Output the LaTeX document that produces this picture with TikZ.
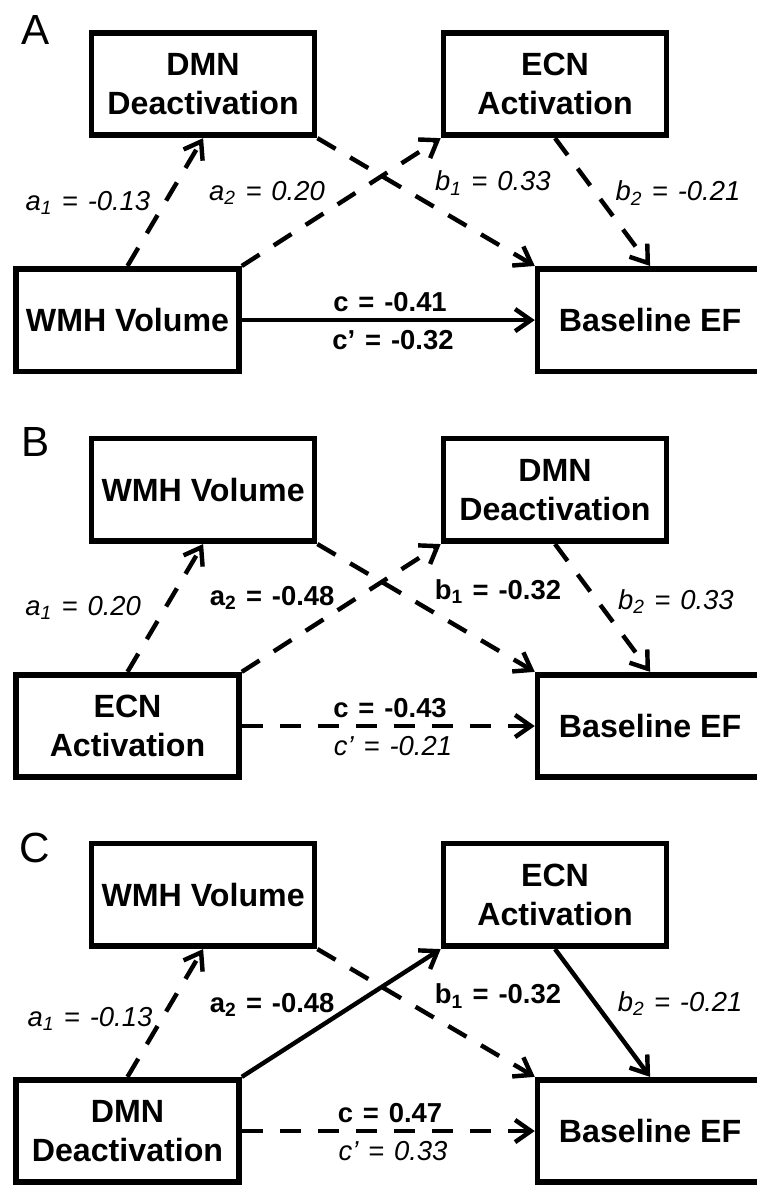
\documentclass[tikz,border=0pt]{standalone}
\usepackage{fontspec}
\setmainfont{Liberation Sans}
\usetikzlibrary{arrows.meta}
\newcommand{\est}[2]{#1\hspace{0.36em}=\hspace{0.36em}#2}

\begin{document}
\begin{tikzpicture}[
    box/.style={draw, line width=5.4pt, minimum width=7.43cm, minimum height=3.42cm,
      align=center, font=\fontsize{30.5}{37}\selectfont\bfseries},
    outbox/.style={box, minimum width=7.5cm},
    link/.style={line width=4.2pt, -{Straight Barb[length=15pt, width=21pt]}},
    dashlink/.style={link, dash pattern=on 20pt off 16pt},
    coef/.style={font=\fontsize{26}{30}\selectfont\itshape},
    coefb/.style={font=\fontsize{26}{30}\selectfont\bfseries},
    panel/.style={font=\fontsize{40}{44}\selectfont}]
  \useasboundingbox (0,0) rectangle (25.2,-39.533);

  % A: WMH volume as predictor
  \node[panel] (labA) at (1.17,-1.0) {A};
  \node[box] (dmnA) at (6.77,-2.8) {DMN\\Deactivation};
  \node[box] (ecnA) at (18.5,-2.8) {ECN\\Activation};
  \node[box] (wmhA) at (4.25,-10.67) {WMH Volume};
  \node[outbox] (efA) at (21.67,-10.67) {Baseline EF};
  \draw[dashlink] (wmhA.north) -- (dmnA.south);
  \draw[dashlink] (wmhA.north east) -- (ecnA.south west);
  \draw[dashlink] (dmnA.south east) -- (efA.north west);
  \draw[dashlink] (ecnA.south) -- (efA.north);
  \draw[link] (wmhA) -- (efA);
  \node[coef] (a1A) at (2.93,-6.77) {\est{a\textsubscript{1}}{-0.13}};
  \node[coef] (a2A) at (8.9,-6.43) {\est{a\textsubscript{2}}{0.20}};
  \node[coef] (b1A) at (16.43,-6.1) {\est{b\textsubscript{1}}{0.33}};
  \node[coef] (b2A) at (22.6,-6.43) {\est{b\textsubscript{2}}{-0.21}};
  \node[coefb] (cA) at (13.0,-10.07) {\est{c}{-0.41}};
  \node[coefb] (cpA) at (13.1,-11.33) {\est{c'}{-0.32}};

  % B: ECN activation as predictor
  \begin{scope}[yshift=-13.53cm]
    \node[panel] (labB) at (1.17,-1.2) {B};
    \node[box] (wmhB) at (6.77,-2.8) {WMH Volume};
    \node[box] (dmnB) at (18.5,-2.8) {DMN\\Deactivation};
    \node[box] (ecnB) at (4.25,-10.67) {ECN\\Activation};
    \node[outbox] (efB) at (21.67,-10.67) {Baseline EF};
    \draw[dashlink] (ecnB.north) -- (wmhB.south);
    \draw[dashlink] (ecnB.north east) -- (dmnB.south west);
    \draw[dashlink] (wmhB.south east) -- (efB.north west);
    \draw[dashlink] (dmnB.south) -- (efB.north);
    \draw[dashlink] (ecnB) -- (efB);
    \node[coef] (a1B) at (2.77,-6.73) {\est{a\textsubscript{1}}{0.20}};
    \node[coefb] (a2B) at (9.07,-6.4) {\est{a\textsubscript{2}}{-0.48}};
    \node[coefb] (b1B) at (16.6,-6.2) {\est{b\textsubscript{1}}{-0.32}};
    \node[coef] (b2B) at (22.53,-6.53) {\est{b\textsubscript{2}}{0.33}};
    \node[coefb] (cB) at (13.0,-10.07) {\est{c}{-0.43}};
    \node[coef] (cpB) at (13.1,-11.33) {\est{c'}{-0.21}};
  \end{scope}

  % C: DMN deactivation as predictor
  \begin{scope}[yshift=-27.03cm]
    \node[panel] (labC) at (1.17,-1.23) {C};
    \node[box] (wmhC) at (6.77,-2.8) {WMH Volume};
    \node[box] (ecnC) at (18.5,-2.8) {ECN\\Activation};
    \node[box] (dmnC) at (4.25,-10.67) {DMN\\Deactivation};
    \node[outbox] (efC) at (21.67,-10.67) {Baseline EF};
    \draw[dashlink] (dmnC.north) -- (wmhC.south);
    \draw[link] (dmnC.north east) -- (ecnC.south west);
    \draw[dashlink] (wmhC.south east) -- (efC.north west);
    \draw[link] (ecnC.south) -- (efC.north);
    \draw[dashlink] (dmnC) -- (efC);
    \node[coef] (a1C) at (3.0,-6.93) {\est{a\textsubscript{1}}{-0.13}};
    \node[coefb] (a2C) at (9.07,-6.47) {\est{a\textsubscript{2}}{-0.48}};
    \node[coefb] (b1C) at (16.6,-6.17) {\est{b\textsubscript{1}}{-0.32}};
    \node[coef] (b2C) at (22.67,-6.43) {\est{b\textsubscript{2}}{-0.21}};
    \node[coefb] (cC) at (13.0,-10.07) {\est{c}{0.47}};
    \node[coef] (cpC) at (13.1,-11.33) {\est{c'}{0.33}};
  \end{scope}
\end{tikzpicture}
\end{document}
